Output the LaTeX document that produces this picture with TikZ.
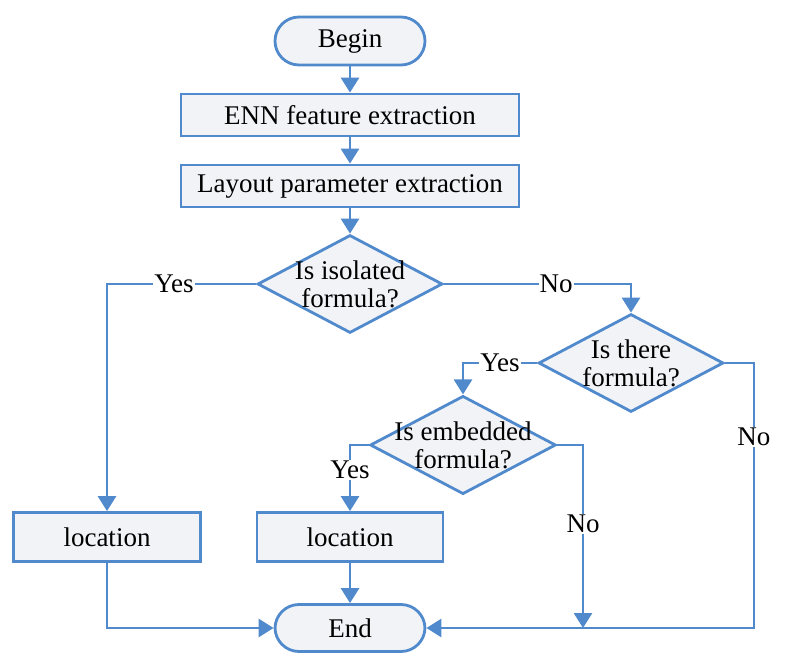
\documentclass[tikz,border=0pt]{standalone}
\usepackage{fontspec}
\setmainfont{Liberation Serif}
\usetikzlibrary{shapes.geometric,arrows.meta}
\definecolor{flowblue}{RGB}{80,138,204}
\definecolor{boxfill}{RGB}{241,243,247}
\tikzset{
  term/.style={draw=flowblue, fill=boxfill, line width=2.8pt, rounded corners=24pt, minimum width=150pt, minimum height=48pt},
  proc/.style={draw=flowblue, fill=boxfill, line width=2.8pt, minimum width=338pt, minimum height=42pt},
  test/.style={diamond, draw=flowblue, fill=boxfill, line width=2.8pt, aspect=1.89, inner sep=-7pt, minimum width=185pt, minimum height=98pt, align=center},
  arr/.style={draw=flowblue, line width=2.8pt, -{Triangle[length=15pt,width=18pt]}},
  lbl/.style={fill=white, inner sep=1pt},
}
\begin{document}
\begin{tikzpicture}[x=1pt, y=-1pt, font=\fontsize{27}{28}\selectfont]
\useasboundingbox (0,0) rectangle (787,660);
\node[term] (start) at (350,41) {Begin}; % begin
\node[proc] (enn) at (350,115) {ENN feature extraction}; % step 1
\node[proc] (layout) at (350,186) {Layout parameter extraction}; % step 2
\node[test] (isol) at (350,284) {Is isolated\\formula?}; % test 1
\node[test] (there) at (631,363) {Is there\\formula?}; % test 2
\node[test] (embed) at (463,445) {Is embedded\\formula?}; % test 3
\node[proc, minimum width=187pt, minimum height=49pt] (locA) at (107,537) {location}; % left location
\node[proc, minimum width=186pt, minimum height=49pt] (locB) at (350,537) {location}; % middle location
\node[term, minimum height=47pt] (stop) at (350,628) {End}; % end
\coordinate (join) at (583,628); % meets the bottom line
\draw[arr] (start) -- (enn);
\draw[arr] (enn) -- (layout);
\draw[arr] (layout) -- (isol);
\draw[arr] (isol.west) -| node[lbl, pos=0.275] {Yes} (locA.north);
\draw[arr] (isol.east) -| node[lbl, pos=0.3] {No} (there.north);
\draw[arr] (there.west) -| node[lbl, pos=0.25] {Yes} (embed.north);
\draw[arr] (there.east) -- ++(29,0) |- node[lbl, pos=0.14] {No} (stop.east);
\draw[arr] (embed.west) -| node[lbl, pos=0.69] {Yes} (locB.north);
\draw[arr] (embed.east) -| node[lbl, pos=0.715] {No} (join);
\draw[arr] (locA.south) |- (stop.west);
\draw[arr] (locB) -- (stop);
\end{tikzpicture}
\end{document}
